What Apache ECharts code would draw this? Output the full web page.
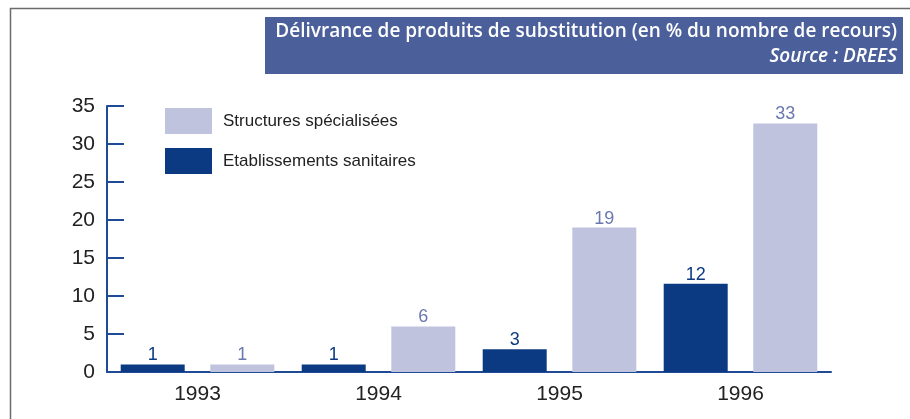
<!DOCTYPE html>
<html>
<head>
<meta charset="utf-8">
<script src="https://cdn.jsdelivr.net/npm/echarts@6/dist/echarts.min.js"></script>
<style>
  html, body { margin: 0; padding: 0; background: #fff; }
  #chart { width: 910px; height: 419px; }
</style>
</head>
<body>
<div id="chart"></div>
<script>
// données
const years = ["1993", "1994", "1995", "1996"];
const etablissements = [1, 1, 3, 11.6]; // Etablissements sanitaires
const structures = [1, 6, 19, 32.7];    // Structures spécialisées
const yTicks = { min: 0, max: 35, step: 5 };

const titleLine1 = "Délivrance de produits de substitution (en % du nombre de recours)";
const titleLine2 = "Source : DREES";

const DARK = "#0b3a82";
const LIGHT = "#bfc3dd";
const AXIS = "#1f4b96";
const FONT = "Liberation Sans, Arial, sans-serif";

const chart = echarts.init(document.getElementById("chart"));

const option = {
  animation: false,
  textStyle: { fontFamily: FONT },
  grid: { left: 107, right: 79, top: 106, bottom: 47 },
  legend: {
    orient: "vertical",
    left: 160,
    top: 103,
    itemWidth: 47,
    itemHeight: 26,
    itemGap: 14,
    icon: "rect",
    data: ["Structures spécialisées", "Etablissements sanitaires"],
    textStyle: { fontSize: 17, color: "#222", fontFamily: FONT, padding: [2, 0, 0, 6] }
  },
  xAxis: {
    type: "category",
    data: years,
    axisLine: { lineStyle: { color: AXIS, width: 2 } },
    axisTick: { inside: true, length: 6, lineStyle: { color: AXIS, width: 2 } },
    axisLabel: { fontSize: 21, color: "#222", margin: 12, fontFamily: FONT }
  },
  yAxis: {
    type: "value",
    min: yTicks.min,
    max: yTicks.max,
    interval: yTicks.step,
    splitLine: { show: false },
    axisLine: { show: true, lineStyle: { color: AXIS, width: 2 } },
    axisTick: { show: true, inside: true, length: 17, lineStyle: { color: AXIS, width: 2 } },
    axisLabel: { fontSize: 21, color: "#222", margin: 12, fontFamily: FONT }
  },
  series: [
    {
      name: "Etablissements sanitaires",
      type: "bar",
      data: etablissements,
      barWidth: 64,
      barGap: "40%",
      itemStyle: { color: DARK },
      label: {
        show: true,
        position: "top",
        distance: 0,
        fontSize: 18,
        color: DARK,
        fontFamily: FONT,
        formatter: p => Math.round(p.value)
      }
    },
    {
      name: "Structures spécialisées",
      type: "bar",
      data: structures,
      barWidth: 64,
      itemStyle: { color: LIGHT },
      label: {
        show: true,
        position: "top",
        distance: 0,
        fontSize: 18,
        color: "#6b78b0",
        fontFamily: FONT,
        formatter: p => Math.round(p.value)
      }
    }
  ],
  graphic: [
    // cadre gris
    { type: "line", shape: { x1: 10, y1: 8.5, x2: 910, y2: 8.5 }, style: { stroke: "#6b6b6b", lineWidth: 1.5 } },
    { type: "line", shape: { x1: 10.5, y1: 8, x2: 10.5, y2: 419 }, style: { stroke: "#6b6b6b", lineWidth: 1.5 } },
    // bandeau du titre
    { type: "rect", shape: { x: 265, y: 17, width: 638, height: 57 }, style: { fill: "#4b5f9b" } },
    {
      type: "text", x: 897, y: 32,
      style: {
        text: titleLine1, fill: "#fff", align: "right", verticalAlign: "middle",
        font: "600 19px 'Open Sans', sans-serif"
      }
    },
    {
      type: "text", x: 897, y: 57,
      style: {
        text: titleLine2, fill: "#fff", align: "right", verticalAlign: "middle",
        font: "italic 600 19px 'Open Sans', sans-serif"
      }
    }
  ]
};

chart.setOption(option);
</script>
</body>
</html>
